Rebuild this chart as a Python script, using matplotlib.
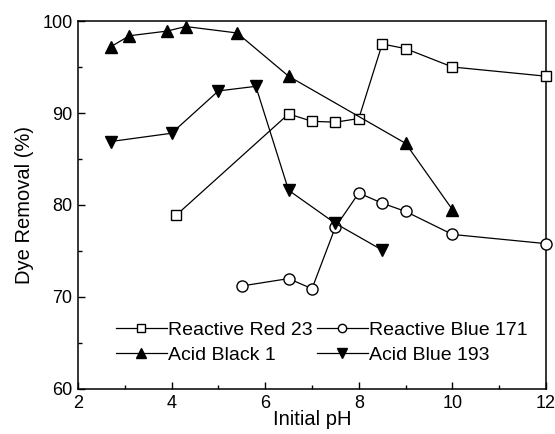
import matplotlib
matplotlib.use("Agg")
import matplotlib.pyplot as plt
from matplotlib.ticker import MultipleLocator

plt.rcParams['font.family'] = ['Liberation Sans', 'DejaVu Sans']

# Reactive Red 23
rr_ph = [4.1, 6.5, 7.0, 7.5, 8.0, 8.5, 9.0, 10.0, 12.0]
rr_val = [78.9, 89.9, 89.1, 89.0, 89.4, 97.5, 97.0, 95.0, 94.0]

# Reactive Blue 171
rb_ph = [5.5, 6.5, 7.0, 7.5, 8.0, 8.5, 9.0, 10.0, 12.0]
rb_val = [71.2, 72.0, 70.9, 77.6, 81.3, 80.2, 79.3, 76.8, 75.8]

# Acid Black 1
ab_ph = [2.7, 3.1, 3.9, 4.3, 5.4, 6.5, 9.0, 10.0]
ab_val = [97.2, 98.4, 98.9, 99.4, 98.7, 94.0, 86.7, 79.5]

# Acid Blue 193
abl_ph = [2.7, 4.0, 5.0, 5.8, 6.5, 7.5, 8.5]
abl_val = [86.9, 87.8, 92.4, 92.9, 81.6, 78.0, 75.1]

fig = plt.figure(figsize=(5.55, 4.34), dpi=100)
ax = fig.add_axes([0.1405, 0.1037, 0.8433, 0.8479])

lw = 0.9
l_rr, = ax.plot(rr_ph, rr_val, '-s', color='black', mfc='white', mec='black', ms=7.5, lw=lw,
                label='Reactive Red 23', clip_on=False, zorder=3)
l_rb, = ax.plot(rb_ph, rb_val, '-o', color='black', mfc='white', mec='black', ms=8, lw=lw,
                label='Reactive Blue 171', clip_on=False, zorder=3)
l_ab, = ax.plot(ab_ph, ab_val, '-^', color='black', mfc='black', ms=9, lw=lw,
                label='Acid Black 1', clip_on=False, zorder=3)
l_abl, = ax.plot(abl_ph, abl_val, '-v', color='black', mfc='black', ms=9, lw=lw,
                 label='Acid Blue 193', clip_on=False, zorder=3)

ax.set_xlim(2, 12)
ax.set_ylim(60, 100)
ax.xaxis.set_major_locator(MultipleLocator(2))
ax.xaxis.set_minor_locator(MultipleLocator(1))
ax.yaxis.set_major_locator(MultipleLocator(10))
ax.yaxis.set_minor_locator(MultipleLocator(5))
ax.tick_params(which='both', direction='in', top=False, right=False, labelsize=13)
ax.tick_params(which='major', length=5, width=1, pad=4)
ax.tick_params(which='minor', length=3, width=1)
for s in ax.spines.values():
    s.set_linewidth(1.1)

ax.set_xlabel('Initial pH', fontsize=14.5, labelpad=-1)
ax.set_ylabel('Dye Removal (%)', fontsize=14.5, labelpad=6)

# row-major order: matplotlib fills columns first
handles = [l_rr, l_ab, l_rb, l_abl]
ax.legend(handles=handles, labels=[h.get_label() for h in handles],
          loc='lower left', bbox_to_anchor=(0.065, 0.048), ncol=2, frameon=False,
          fontsize=14, handlelength=2.6, handletextpad=0.05, columnspacing=0.25,
          labelspacing=0.38, borderaxespad=0, markerscale=0.75)

fig.savefig('out.png', dpi=100)
